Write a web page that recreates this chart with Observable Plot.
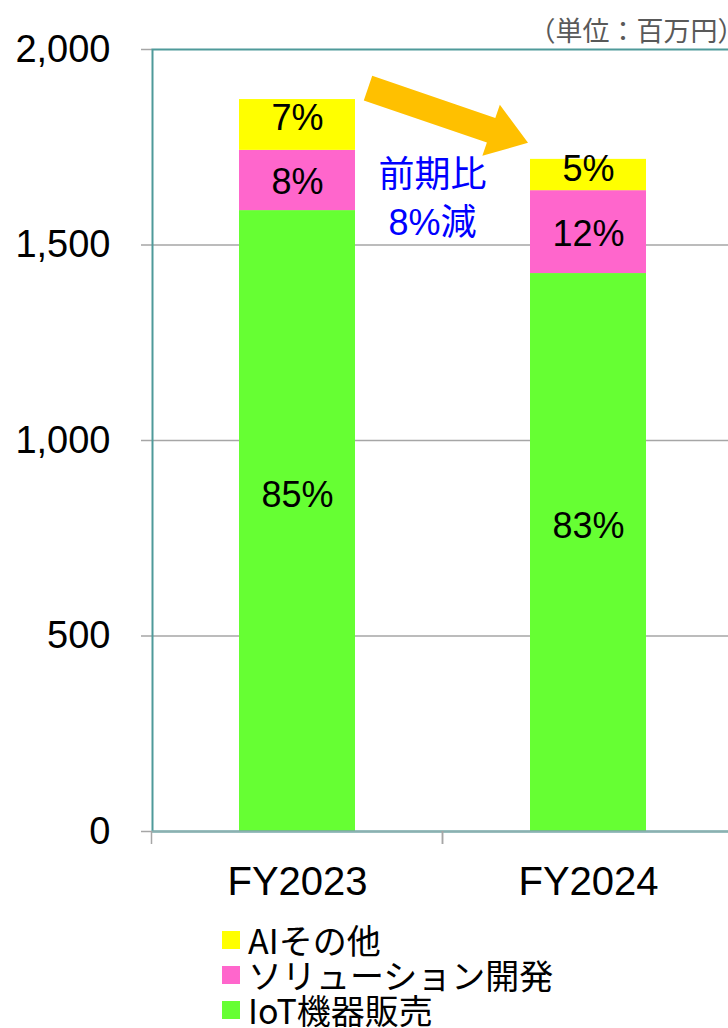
<!DOCTYPE html>
<html>
<head>
<meta charset="utf-8">
<script src="https://cdn.jsdelivr.net/npm/d3@7"></script>
<script src="https://cdn.jsdelivr.net/npm/@observablehq/plot@0.6"></script>
<style>
  html, body { margin: 0; padding: 0; background: white; overflow: hidden; width: 728px; }
  #chart svg { display: block; overflow: hidden; }
  .legend { margin-top: 12px; padding-left: 222px; font-family: "Noto Sans CJK JP", "Liberation Sans", sans-serif; font-size: 34px; color: #000; }
  .legend .row { display: flex; align-items: center; height: 35px; }
  .legend .sw { width: 18px; height: 18px; margin-right: 8px; flex: none; }
  .legend .lb { display: inline-block; height: 35px; line-height: 35px; overflow: visible; white-space: nowrap; }
</style>
</head>
<body>
<div id="chart"></div>
<div class="legend" id="legend"></div>
<script>
// ---- data ----
const years = ["FY2023", "FY2024"];
const segments = ["IoT機器販売", "ソリューション開発", "AIその他"];
const iotValues = [1588, 1427];
const solutionValues = [154, 212];
const aiValues = [130, 80];
const iotShares = ["85%", "83%"];
const solutionShares = ["8%", "12%"];
const aiShares = ["7%", "5%"];
const segmentColors = ["#66FF33", "#FF66CC", "#FFFF00"];
const yTicks = [0, 500, 1000, 1500, 2000];
const gridValues = [500, 1000, 1500];
const unitLabel = "（単位：百万円）";
const changeNote = ["前期比", "8%減"];
const changeNoteY = [1680, 1557];
const arrowY = [1900, 1760];
const legendOrder = ["AIその他", "ソリューション開発", "IoT機器販売"];

const seriesValues = [iotValues, solutionValues, aiValues];
const table = [];
years.forEach((yr, i) => {
  segments.forEach((seg, j) => table.push({year: yr, segment: seg, value: seriesValues[j][i]}));
});

const latin = '"Liberation Sans", Arial, "Noto Sans CJK JP", sans-serif';

function bandInfo(x) {
  const step = x(years[1]) - x(years[0]);
  const bw = typeof x.bandwidth === "function" ? x.bandwidth() : step * 0.4;
  return {step, bw};
}

// boundary tick marks between categories
function boundaryTicks(index, scales) {
  const x = scales.x, y = scales.y;
  const {step, bw} = bandInfo(x);
  const g = d3.create("svg:g");
  const y0 = y(0);
  years.forEach(yr => {
    const left = x(yr) - (step - bw) / 2;
    [left, left + step].forEach(px => {
      g.append("line").attr("x1", px).attr("x2", px).attr("y1", y0).attr("y2", y0 + 13)
        .attr("stroke", "#a6a6a6").attr("stroke-width", 1.5);
    });
  });
  return g.node();
}

// block arrow + annotation
function changeAnnotation(index, scales) {
  const x = scales.x, y = scales.y;
  const {step, bw} = bandInfo(x);
  const g = d3.create("svg:g");
  const x1 = x(years[0]) + bw + 13, y1 = y(arrowY[0]);
  const x2 = x(years[1]) - 2, y2 = y(arrowY[1]);
  const dx = x2 - x1, dy = y2 - y1, len = Math.hypot(dx, dy);
  const ux = dx / len, uy = dy / len, nx = -uy, ny = ux;
  const shaft = 13, head = 27, headLen = 39;
  const bx = x2 - ux * headLen, by = y2 - uy * headLen;
  const pts = [
    [x1 + nx * shaft, y1 + ny * shaft],
    [bx + nx * shaft, by + ny * shaft],
    [bx + nx * head, by + ny * head],
    [x2, y2],
    [bx - nx * head, by - ny * head],
    [bx - nx * shaft, by - ny * shaft],
    [x1 - nx * shaft, y1 - ny * shaft]
  ];
  g.append("polygon").attr("points", pts.map(p => p.join(",")).join(" ")).attr("fill", "#FFC000");
  const cx = (x(years[0]) + x(years[1]) + bw) / 2 - 10;
  changeNote.forEach((t, i) => {
    g.append("text").attr("x", cx).attr("y", y(changeNoteY[i])).attr("dy", "0.35em")
      .attr("text-anchor", "middle").attr("fill", "#0000FF")
      .attr("font-family", latin).attr("font-size", 36).text(t);
  });
  return g.node();
}

const chart = Plot.plot({
  width: 728,
  height: 910,
  marginLeft: 152,
  marginRight: -6,
  marginTop: 49,
  marginBottom: 79,
  style: {fontFamily: latin, fontSize: "36px", background: "white", color: "black"},
  x: {domain: years, paddingInner: 0.6, paddingOuter: 0.3, axis: null},
  y: {domain: [0, 2000], axis: null},
  color: {domain: segments, range: segmentColors},
  marks: [
    Plot.ruleY(gridValues, {stroke: "#a6a6a6", strokeWidth: 1.5}),
    Plot.axisY({ticks: yTicks, tickSize: 11, tickPadding: 31, tickFormat: d3.format(","),
      stroke: "#a6a6a6", fill: "black", fontSize: 38, label: null, strokeWidth: 1.5}),
    Plot.barY(table, {x: "year", y: "value", fill: "segment"}),
    Plot.frame({stroke: "#4F9A9A", strokeWidth: 2}),
    Plot.ruleY([0], {stroke: "#8CB0B0", strokeWidth: 2}),
    boundaryTicks,
    Plot.axisX({tickSize: 0, tickPadding: 35, fontSize: 40, label: null}),
    Plot.text(years, {x: d => d, y: (d, i) => iotValues[i] / 2, text: (d, i) => iotShares[i], dy: -26, fontSize: 36, fill: "black"}),
    Plot.text(years, {x: d => d, y: (d, i) => iotValues[i] + solutionValues[i] / 2, text: (d, i) => solutionShares[i], dy: 2, fontSize: 36, fill: "black"}),
    Plot.text(years, {x: d => d, y: (d, i) => iotValues[i] + solutionValues[i] + aiValues[i] / 2, text: (d, i) => aiShares[i], dy: -6, fontSize: 36, fill: "black"}),
    changeAnnotation,
    Plot.text([unitLabel], {frameAnchor: "top-right", textAnchor: "end", dx: 10, dy: -28,
      fontSize: 27, fill: "#595959", fontFamily: '"Noto Sans CJK JP", sans-serif'})
  ]
});
document.getElementById("chart").appendChild(chart);

// legend
const legend = document.getElementById("legend");
legendOrder.forEach(name => {
  const row = document.createElement("div");
  row.className = "row";
  const sw = document.createElement("span");
  sw.className = "sw";
  sw.style.background = segmentColors[segments.indexOf(name)];
  const label = document.createElement("span");
  label.className = "lb";
  label.textContent = name;
  row.appendChild(sw);
  row.appendChild(label);
  legend.appendChild(row);
});
</script>
</body>
</html>
